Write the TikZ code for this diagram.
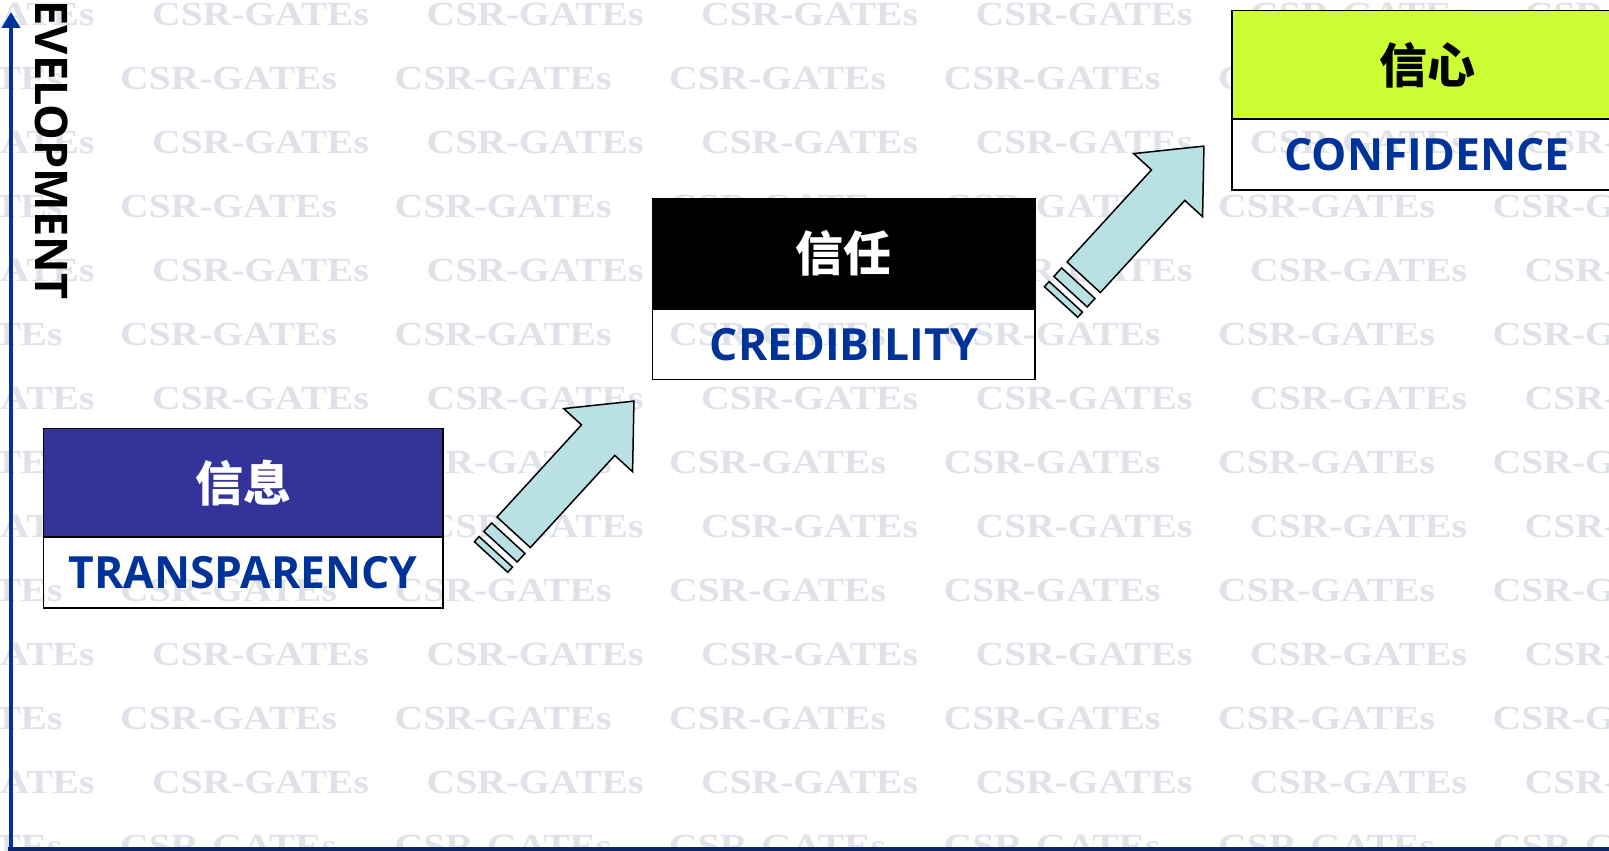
\documentclass[tikz,border=0pt]{standalone}
\usepackage{fontspec}
\usepackage{graphicx}
\usetikzlibrary{arrows.meta}
\newfontfamily\cjkfont{Noto Sans CJK SC}
\newfontfamily\labfont{Open Sans}
\newfontfamily\wmfont{Liberation Serif}
\definecolor{wmgray}{RGB}{223,226,233}
\definecolor{boxblue}{RGB}{51,51,153}
\definecolor{boxlime}{RGB}{204,255,51}
\definecolor{txtblue}{RGB}{0,51,153}
\definecolor{arrowfill}{RGB}{185,224,227}
\definecolor{axisblue}{RGB}{0,51,160}
\definecolor{axisnavy}{RGB}{12,38,104}
\begin{document}
\begin{tikzpicture}[x=1pt,y=-1pt,
  wmark/.style={anchor=west, text=wmgray, inner sep=0pt, font=\wmfont\bfseries\fontsize{33.8}{34}\selectfont},
  toppart/.style={draw=black, line width=1.5pt, inner sep=0pt, font=\cjkfont\bfseries\fontsize{48}{48}\selectfont},
  lowpart/.style={draw=black, line width=1.5pt, inner sep=0pt, text=txtblue, font=\labfont\bfseries\fontsize{44.4}{45}\selectfont},
  blockarrow/.style={draw=black, line width=1.5pt, fill=arrowfill, line join=miter},
  axisline/.style={draw=axisblue, line width=4pt},
  baseline/.style={draw=axisnavy, line width=3.5pt},
  axislabel/.style={rotate=-90, inner sep=0pt, text=black, font=\labfont\bfseries\fontsize{45}{45}\selectfont}
]
\useasboundingbox (0,0) rectangle (1609,851);
\clip (0,0) rectangle (1609,851);
\fill[white] (0,0) rectangle (1609,851);

% watermark
\foreach \k in {0,...,13} {
  \pgfmathsetmacro{\yy}{14+64*\k}
  \pgfmathsetmacro{\xo}{mod(\k,2)==0 ? 152 : 120}
  \foreach \j in {-1,...,5} {
    \node[wmark] (wm-\k-\j) at ({\xo+274.5*\j},\yy) {\scalebox{1.17}[1]{CSR-GATEs}};
  }
}

% axes
\coordinate (origin) at (11,849);
\coordinate (ytop) at (11,12);
\coordinate (xstart) at (8,849);
\coordinate (xend) at (1609,849);
\draw[baseline] (xstart) -- (xend);
\draw[axisline, -{Triangle[width=18pt,length=16pt]}] (origin) -- (ytop);
\node[axislabel] (ylabel) at (51.5,150) {EVELOPMENT};

% boxes
\node[toppart, fill=boxblue, text=white, minimum width=399.7pt, minimum height=108.7pt] (b1t) at (243.15,482.65) {信息};
\node[lowpart, minimum width=399.7pt, minimum height=71pt] (b1b) at (243.15,572.5) {TRANSPARENCY};

\node[toppart, fill=black, text=white, minimum width=382.3pt, minimum height=110.7pt] (b2t) at (843.85,253.65) {信任};
\node[lowpart, minimum width=382.3pt, minimum height=70.3pt] (b2b) at (843.85,344.15) {CREDIBILITY};

\node[toppart, fill=boxlime, text=black, minimum width=390pt, minimum height=108.3pt] (b3t) at (1427,64.85) {信心};
\node[lowpart, minimum width=390pt, minimum height=71pt] (b3b) at (1427,154.5) {CONFIDENCE};

% striped block arrows
\foreach \sx/\sy/\nm in {513.7/532.3/a1, 1083.7/277.3/a2} {
  \begin{scope}[shift={(\sx,\sy)}, rotate=47.5]
    \coordinate (\nm-tail) at (0,0);
    \coordinate (\nm-tip) at (178,0);
    \draw[blockarrow] (0,-22.6) -- (125,-22.6) -- (125,-46.7) -- (\nm-tip) -- (125,46.7) -- (125,22.6) -- (0,22.6) -- cycle;
    \draw[blockarrow] (-8,-22.6) rectangle (-19.5,22.6);
    \draw[blockarrow] (-26.5,-22.6) rectangle (-33.5,22.6);
  \end{scope}
}
\end{tikzpicture}
\end{document}
